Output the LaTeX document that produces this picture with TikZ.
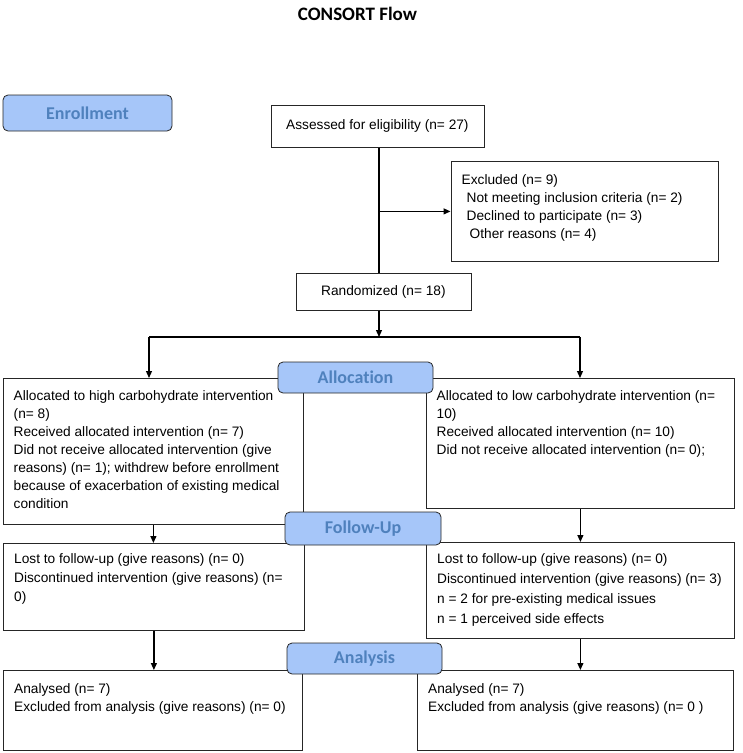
\documentclass[tikz,border=0pt]{standalone}
\usepackage{fontspec}
\setmainfont{Liberation Sans}
\newfontfamily\calibrifont{Carlito}[Ligatures={NoCommon,NoContextual}]
\usetikzlibrary{arrows.meta}

\definecolor{labelfill}{RGB}{166,198,249}
\definecolor{labeltext}{RGB}{79,129,189}

\tikzset{
  flowbox/.style={draw=black!85, line width=0.8pt, rectangle, inner sep=0pt, anchor=north west},
  stagebox/.style={draw=black!85, line width=0.8pt, rounded corners=5pt, fill=labelfill, inner sep=0pt,
    text=labeltext, font=\calibrifont\bfseries\fontsize{18}{20}\selectfont},
  boxtext/.style={anchor=north west, inner sep=0pt, align=left, font=\fontsize{13.7}{18}\selectfont},
  flowarrow/.style={line width=1.2pt, -{Triangle[length=7pt,width=6pt]}},
  flowline/.style={line width=1.2pt}
}

\begin{document}
\begin{tikzpicture}[x=1pt,y=1pt,yscale=-1,xscale=1]
  \useasboundingbox (0,0) rectangle (743,753);

  % Title
  \node (title) at (357.5,14) {\calibrifont\bfseries\fontsize{19}{22}\selectfont CONSORT Flow};

  %Shape: Boxes
  \node [flowbox, minimum width=213pt, minimum height=42pt] (assess) at (270.5,105) {};
  \node [flowbox, minimum width=267pt, minimum height=100pt] (excl) at (450.5,161) {};
  \node [flowbox, minimum width=175pt, minimum height=37pt] (rand) at (295.5,273) {};
  \node [flowbox, minimum width=300pt, minimum height=146pt] (allochi) at (3,378) {};
  \node [flowbox, minimum width=308pt, minimum height=130pt] (alloclo) at (426,378) {};
  \node [flowbox, minimum width=301pt, minimum height=87pt] (fuhi) at (3,543) {};
  \node [flowbox, minimum width=308pt, minimum height=96pt] (fulo) at (426,542) {};
  \node [flowbox, minimum width=299pt, minimum height=80pt] (anhi) at (3,670) {};
  \node [flowbox, minimum width=316pt, minimum height=80pt] (anlo) at (417,670) {};

  % Split points
  \coordinate (split) at (379,337);
  \coordinate (splitL) at (149,337);
  \coordinate (splitR) at (580,337);

  %Straight Lines
  \draw [flowline] (assess.south -| split) -- (rand.north -| split);
  \draw [flowarrow] (excl.west -| split) -- (excl.west);
  \draw [flowarrow] (rand.south -| split) -- (split);
  \draw [flowline] (splitL) -- (splitR);
  \draw [flowarrow] (splitL) -- (splitL |- allochi.north);
  \draw [flowarrow] (splitR) -- (splitR |- alloclo.north);
  \draw [flowarrow] (allochi.south) -- (allochi.south |- fuhi.north);
  \draw [flowarrow] (alloclo.south) -- (alloclo.south |- fulo.north);
  \draw [flowarrow] (fuhi.south) -- (fuhi.south |- anhi.north);
  \draw [flowarrow] (fulo.south) -- (fulo.south |- anlo.north);

  %Shape: Stage labels
  \node [stagebox, minimum width=169pt, minimum height=36pt] (enroll) at (87.5,113) {Enrollment};
  \node [stagebox, minimum width=155pt, minimum height=31pt] (alloc) at (355.5,377.5) {Allocation};
  \node [stagebox, minimum width=156pt, minimum height=33pt] (follow) at (363,528.5) {Follow-Up};
  \node [stagebox, minimum width=155pt, minimum height=31pt] (analysis) at (364.5,658.5) {Analysis};

  % Text Node
  \node [font=\fontsize{13.7}{18}\selectfont] (assess-txt) at (assess.center) {Assessed for eligibility (n= 27)};
  % Text Node
  \node [font=\fontsize{13.7}{18}\selectfont] (rand-txt) at (rand.center) {Randomized (n= 18)};
  % Text Node
  \node [boxtext] (excl-txt) at (461.5,174.5) {Excluded (n= 9)\\
    \hspace{5pt}Not meeting inclusion criteria (n= 2)\\
    \hspace{5pt}Declined to participate (n= 3)\\
    \hspace{8pt}Other reasons (n= 4)};
  % Text Node
  \node [boxtext] (allochi-txt) at (13.5,390) {Allocated to high carbohydrate intervention\\
    (n= 8)\\
    Received allocated intervention (n= 7)\\
    Did not receive allocated intervention (give\\
    reasons) (n= 1); withdrew before enrollment\\
    because of exacerbation of existing medical\\
    condition};
  % Text Node
  \node [boxtext] (alloclo-txt) at (436.5,390.5) {Allocated to low carbohydrate intervention (n=\\
    10)\\
    Received allocated intervention (n= 10)\\
    Did not receive allocated intervention (n= 0);};
  % Text Node
  \node [boxtext, font=\fontsize{13.7}{19}\selectfont] (fuhi-txt) at (14,553) {Lost to follow-up (give reasons) (n= 0)\\
    Discontinued intervention (give reasons) (n=\\
    0)};
  % Text Node
  \node [boxtext, font=\fontsize{13.7}{20}\selectfont] (fulo-txt) at (437,553) {Lost to follow-up (give reasons) (n= 0)\\
    Discontinued intervention (give reasons) (n= 3)\\
    n = 2 for pre-existing medical issues\\
    n = 1 perceived side effects};
  % Text Node
  \node [boxtext, font=\fontsize{13.7}{18.5}\selectfont] (anhi-txt) at (14,683) {Analysed (n= 7)\\
    Excluded from analysis (give reasons) (n= 0)};
  % Text Node
  \node [boxtext, font=\fontsize{13.7}{18.5}\selectfont] (anlo-txt) at (428,683) {Analysed (n= 7)\\
    Excluded from analysis (give reasons) (n= 0 )};

\end{tikzpicture}
\end{document}
